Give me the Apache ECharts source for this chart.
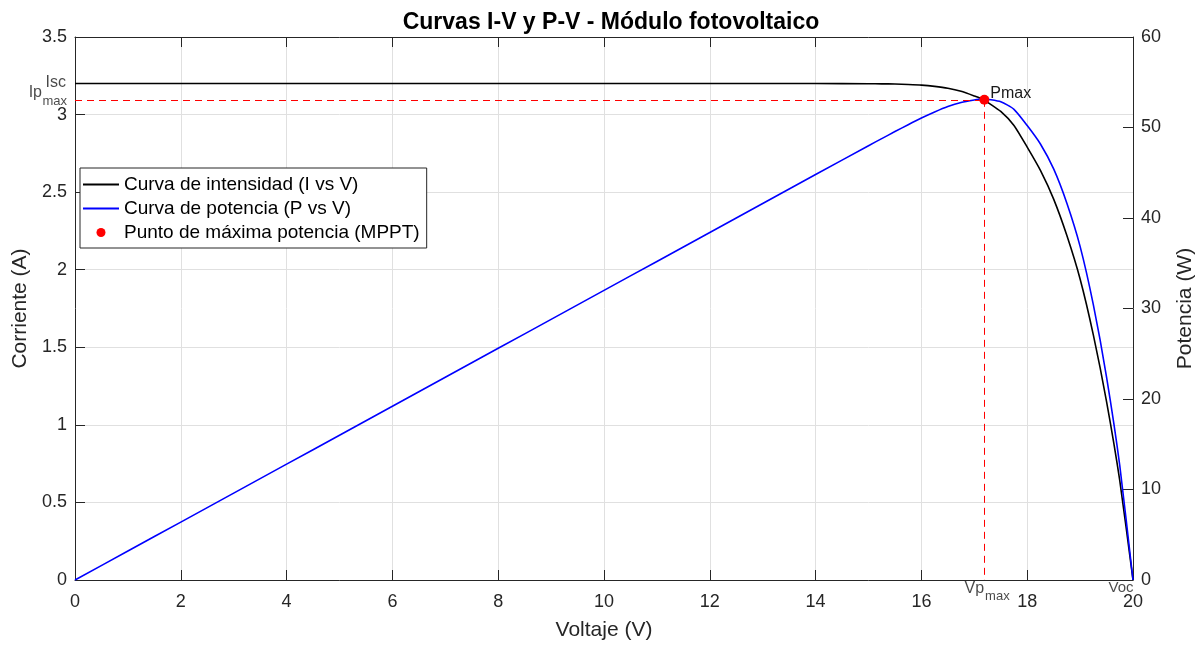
<!DOCTYPE html>
<html>
<head>
<meta charset="utf-8">
<title>Curvas I-V y P-V</title>
<script src="https://cdn.jsdelivr.net/npm/echarts@6/dist/echarts.min.js"></script>
<style>
  html, body { margin: 0; padding: 0; background: #fff; }
  #container { width: 1204px; height: 648px; }
</style>
</head>
<body>
<div id="container"></div>
<script>
// datos
var voltaje = [0, 1, 2, 3, 4, 5, 6, 7, 8, 9, 10, 11, 12, 13, 14, 15,
    15.25, 15.5, 15.75, 16, 16.25, 16.5, 16.75, 17, 17.19, 17.25, 17.5, 17.75,
    18, 18.25, 18.5, 18.75, 19, 19.25, 19.5, 19.75, 20];
var corriente = [3.2, 3.2, 3.2, 3.2, 3.2, 3.2, 3.2, 3.2, 3.2, 3.2, 3.2, 3.2, 3.2, 3.2, 3.2, 3.199,
    3.198, 3.197, 3.194, 3.19, 3.182, 3.17, 3.15, 3.12, 3.095, 3.08, 3.02, 2.93,
    2.79, 2.64, 2.455, 2.22, 1.94, 1.58, 1.15, 0.64, 0];
var potencia = [0, 3.2, 6.4, 9.6, 12.8, 16.0, 19.2, 22.4, 25.6, 28.8, 32.0, 35.2, 38.4, 41.6, 44.8, 47.99,
    48.77, 49.55, 50.31, 51.04, 51.71, 52.31, 52.76, 53.04, 53.2, 53.13, 52.85, 52.01,
    50.22, 48.18, 45.42, 41.63, 36.86, 30.42, 22.43, 12.64, 0];

var isc = 3.2;
var voc = 20;
var vpMax = 17.19;
var ipMax = 3.095;

var nombres = ['Curva de intensidad (I vs V)', 'Curva de potencia (P vs V)', 'Punto de máxima potencia (MPPT)'];

var fuente = 'Liberation Sans, Arial, Helvetica, sans-serif';
var gris = '#262626';
var rojoDash = { color: '#ff0000', type: [7, 5], width: 1 };

var datosI = voltaje.map(function (v, i) { return [v, corriente[i]]; });
var datosP = voltaje.map(function (v, i) { return [v, potencia[i]]; });

var myChart = echarts.init(document.getElementById('container'));

function ejeBase() {
    return {
        axisLine: { show: true, onZero: false, lineStyle: { color: gris, width: 1 } },
        axisTick: { show: true, inside: true, length: 10, lineStyle: { color: gris } }
    };
}

var option = {
    animation: false,
    textStyle: { fontFamily: fuente },
    title: {
        text: 'Curvas I-V y P-V - Módulo fotovoltaico',
        left: 606,
        textAlign: 'center',
        top: 6,
        textStyle: { fontFamily: fuente, fontSize: 23, fontWeight: 'bold', color: '#000' }
    },
    grid: { left: 75, right: 70, top: 37, bottom: 68 },
    legend: {
        orient: 'vertical',
        left: 80,
        top: 168,
        padding: [7, 7, 6, 3],
        itemGap: 5,
        itemWidth: 36,
        itemHeight: 9,
        selectedMode: false,
        backgroundColor: '#fff',
        borderColor: gris,
        borderWidth: 1,
        textStyle: { fontFamily: fuente, fontSize: 19, color: '#000' },
        data: [
            { name: nombres[0], icon: 'path://M0,0H36V2H0Z' },
            { name: nombres[1], icon: 'path://M0,0H36V2H0Z' },
            { name: nombres[2], icon: 'circle' }
        ]
    },
    xAxis: [
        Object.assign(ejeBase(), {
            type: 'value',
            position: 'bottom',
            min: 0, max: 20, interval: 2,
            name: 'Voltaje (V)',
            nameLocation: 'middle',
            nameGap: 40,
            nameTextStyle: { fontFamily: fuente, fontSize: 21, color: gris },
            axisLabel: { fontFamily: fuente, fontSize: 18, color: gris, margin: 13 },
            splitLine: { show: true, lineStyle: { color: '#e0e0e0', width: 1 } }
        }),
        Object.assign(ejeBase(), {
            type: 'value',
            position: 'top',
            min: 0, max: 20, interval: 2,
            axisLabel: { show: false },
            splitLine: { show: false }
        })
    ],
    yAxis: [
        Object.assign(ejeBase(), {
            type: 'value',
            position: 'left',
            min: 0, max: 3.5, interval: 0.5,
            name: 'Corriente (A)',
            nameLocation: 'middle',
            nameGap: 41,
            nameTextStyle: { fontFamily: fuente, fontSize: 21, color: gris },
            axisLabel: { fontFamily: fuente, fontSize: 18, color: gris, margin: 8 },
            splitLine: { show: true, lineStyle: { color: '#e0e0e0', width: 1 } }
        }),
        Object.assign(ejeBase(), {
            type: 'value',
            position: 'right',
            min: 0, max: 60, interval: 10,
            name: 'Potencia (W)',
            nameLocation: 'middle',
            nameGap: 42,
            nameTextStyle: { fontFamily: fuente, fontSize: 21, color: gris },
            axisLabel: { fontFamily: fuente, fontSize: 18, color: gris, margin: 8 },
            splitLine: { show: false }
        })
    ],
    series: [
        {
            name: nombres[0],
            type: 'line',
            xAxisIndex: 0,
            yAxisIndex: 0,
            data: datosI,
            symbol: 'none',
            smooth: 0.2,
            color: '#000000',
            lineStyle: { color: '#000000', width: 1.6 },
            z: 3
        },
        {
            name: nombres[1],
            type: 'line',
            xAxisIndex: 0,
            yAxisIndex: 1,
            data: datosP,
            symbol: 'none',
            smooth: 0.2,
            color: '#0000ff',
            lineStyle: { color: '#0000ff', width: 1.6 },
            z: 3
        },
        {
            name: nombres[2],
            type: 'scatter',
            xAxisIndex: 0,
            yAxisIndex: 0,
            data: [[vpMax, ipMax]],
            symbolSize: 10,
            color: '#ff0000',
            itemStyle: { color: '#ff0000', opacity: 1 },
            z: 5,
            label: {
                show: true,
                formatter: 'Pmax',
                position: 'right',
                distance: 1,
                offset: [0, -6],
                fontFamily: fuente,
                fontSize: 16,
                color: '#1a1a1a'
            },
            markLine: {
                silent: true,
                symbol: 'none',
                label: { show: false },
                emphasis: { disabled: true },
                lineStyle: rojoDash,
                data: [
                    [{ coord: [0, ipMax], lineStyle: rojoDash }, { coord: [vpMax, ipMax] }],
                    [{ coord: [vpMax, ipMax], lineStyle: rojoDash }, { coord: [vpMax, 0] }]
                ]
            }
        },
        {
            name: 'notas',
            type: 'scatter',
            xAxisIndex: 0,
            yAxisIndex: 0,
            symbolSize: 0,
            silent: true,
            z: 6,
            label: { show: true, fontFamily: fuente, color: '#1a1a1a', fontSize: 16 },
            data: [
                { value: [0, isc], label: { formatter: 'Isc', position: 'left', distance: 9, offset: [0, -1] } },
                { value: [0, ipMax], label: { formatter: 'Ip', position: 'left', distance: 33, offset: [0, -7] } },
                { value: [0, ipMax], label: { formatter: 'max', position: 'left', distance: 8, offset: [0, 2], fontSize: 13 } },
                { value: [vpMax, 0], label: { formatter: 'Vp', position: 'bottom', distance: 1, offset: [-10, 0] } },
                { value: [vpMax, 0], label: { formatter: 'max', position: 'bottom', distance: 1, offset: [13, 9], fontSize: 13 } },
                { value: [voc, 0], label: { formatter: 'Voc', position: 'bottom', distance: 0, offset: [-12, 0], fontSize: 15 } }
            ]
        }
    ]
};

if (option && typeof option === 'object') {
    myChart.setOption(option, true);
}
window.addEventListener('resize', function () {
    myChart.resize();
});
</script>
</body>
</html>
